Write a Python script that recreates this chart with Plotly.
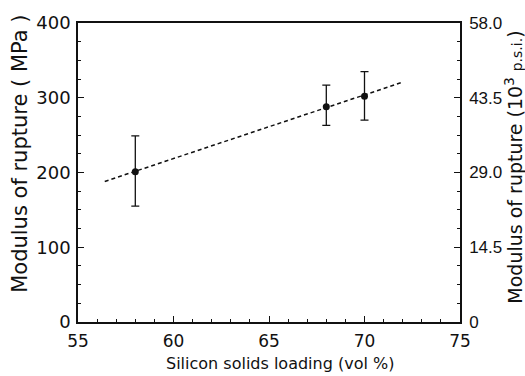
import plotly.graph_objects as go

# Data
loading = [58, 68, 70]                # vol %
mor = [201, 288, 302]                 # MPa
err_plus = [48, 29, 33]
err_minus = [46, 25, 32]
fit_x = [56.4, 71.9]
fit_y = [188, 320]

x_ticks = [55, 60, 65, 70, 75]
y_ticks = [0, 100, 200, 300, 400]
y2_ticks = [0, 14.5, 29.0, 43.5, 58.0]
y2_labels = ["0", "14.5", "29.0", "43.5", "58.0"]

FONT = "DejaVu Sans"
NARROW = "Liberation Sans"
INK = "#111111"

fig = go.Figure()
fig.add_trace(go.Scatter(
    x=fit_x, y=fit_y, mode="lines",
    line=dict(color=INK, width=1.5, dash="4px,3px"),
    showlegend=False, hoverinfo="skip"))
fig.add_trace(go.Scatter(
    x=loading, y=mor, mode="markers",
    marker=dict(color=INK, size=7),
    error_y=dict(type="data", array=err_plus, arrayminus=err_minus,
                 color=INK, thickness=1.3, width=4),
    showlegend=False))
# invisible trace to activate right axis
fig.add_trace(go.Scatter(x=[55], y=[0], yaxis="y2", mode="markers",
                         marker=dict(opacity=0), showlegend=False, hoverinfo="skip"))

axis_common = dict(showgrid=False, zeroline=False, showline=True,
                   linecolor=INK, linewidth=1.5, ticks="inside",
                   tickcolor=INK, tickwidth=1.2, ticklen=6)

fig.update_layout(
    width=525, height=376,
    margin=dict(l=78, r=65, t=20, b=54),
    paper_bgcolor="white", plot_bgcolor="white",
    font=dict(family=FONT, color=INK),
    xaxis=dict(range=[55, 75], tickvals=x_ticks, mirror=True,
               minor=dict(dtick=1, tick0=55, ticks="inside", ticklen=3,
                          tickcolor=INK, tickwidth=1),
               ticklabelstandoff=3,
               tickfont=dict(family=FONT, size=17, color=INK),
               **axis_common),
    yaxis=dict(range=[0, 400], tickvals=y_ticks,
               minor=dict(dtick=25, tick0=0, ticks="inside", ticklen=3,
                          tickcolor=INK, tickwidth=1),
               ticklabelstandoff=2,
               tickfont=dict(family=FONT, size=18, color=INK),
               **axis_common),
    yaxis2=dict(range=[0, 58], tickvals=y2_ticks, ticktext=y2_labels,
                overlaying="y", side="right",
                minor=dict(dtick=3.625, tick0=0, ticks="inside", ticklen=3,
                           tickcolor=INK, tickwidth=1),
                ticklabelstandoff=4,
                tickfont=dict(family=NARROW, size=17, color=INK),
                **axis_common),
    annotations=[
        dict(text="Silicon solids loading (vol %)", xref="paper", yref="paper",
             x=0.53, y=-0.14, xanchor="center", yanchor="middle",
             showarrow=False, font=dict(family=FONT, size=16, color=INK)),
        dict(text="Modulus of rupture ( MPa )", xref="paper", yref="paper",
             x=-0.154, y=0.563, xanchor="center", yanchor="middle", textangle=-90,
             showarrow=False, font=dict(family=FONT, size=21, color=INK)),
        dict(text="Modulus of rupture (10<sup>3</sup> <span style='font-size:14px'>p.s.i.</span>)",
             xref="paper", yref="paper",
             x=1.142, y=0.517, xanchor="center", yanchor="middle", textangle=-90,
             showarrow=False, font=dict(family=FONT, size=19, color=INK)),
    ],
)

fig.write_html("out.html")
